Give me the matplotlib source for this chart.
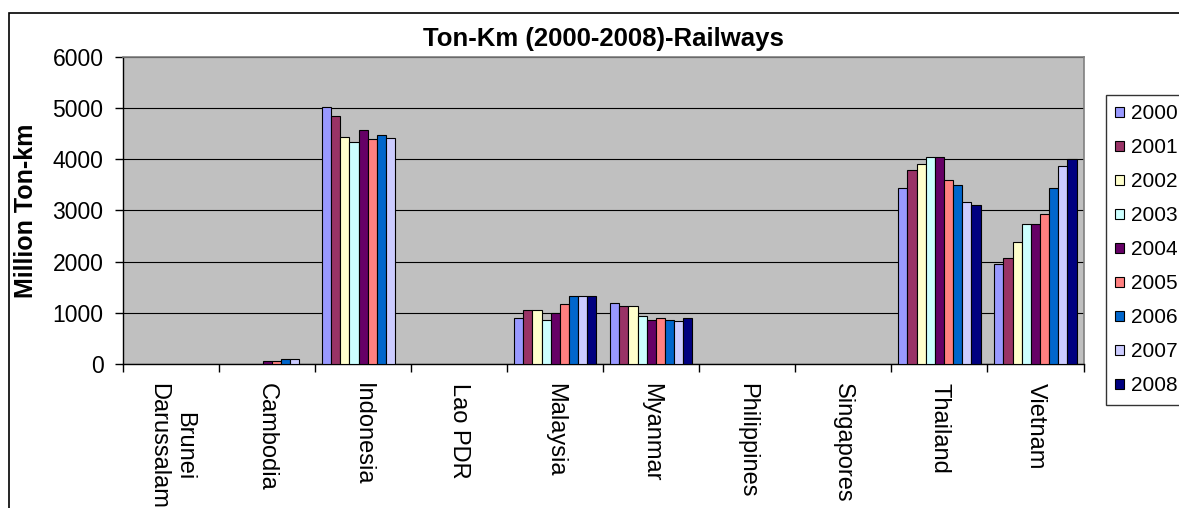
import numpy as np
import matplotlib
matplotlib.use('Agg')
import matplotlib.pyplot as plt
from matplotlib.patches import Rectangle

plt.rcParams['font.family'] = ['Liberation Sans', 'DejaVu Sans']

# 数据 (Million Ton-km), nan = 无数据
countries = ['Brunei\nDarussalam', 'Cambodia', 'Indonesia', 'Lao PDR', 'Malaysia',
             'Myanmar', 'Philippines', 'Singapores', 'Thailand', 'Vietnam']
years = ['2000', '2001', '2002', '2003', '2004', '2005', '2006', '2007', '2008']
nan = np.nan
y2000 = [nan, nan, 5010, nan, 890, 1190, nan, nan, 3440, 1950]
y2001 = [nan, nan, 4840, nan, 1060, 1135, nan, nan, 3780, 2060]
y2002 = [nan, nan, 4440, nan, 1060, 1135, nan, nan, 3910, 2390]
y2003 = [nan, nan, 4340, nan, 860, 930, nan, nan, 4045, 2725]
y2004 = [nan, 65, 4570, nan, 1000, 860, nan, nan, 4045, 2725]
y2005 = [nan, 65, 4400, nan, 1165, 890, nan, nan, 3600, 2930]
y2006 = [nan, 105, 4480, nan, 1335, 860, nan, nan, 3500, 3440]
y2007 = [nan, 105, 4410, nan, 1335, 830, nan, nan, 3170, 3875]
y2008 = [nan, nan, nan, nan, 1335, 900, nan, nan, 3100, 4010]
series = [y2000, y2001, y2002, y2003, y2004, y2005, y2006, y2007, y2008]

# Excel 2003 默认配色
colors = ['#9999FF', '#993366', '#FFFFCC', '#CCFFFF', '#660066',
          '#FF8080', '#0066CC', '#CCCCFF', '#000080']

W, H = 1179, 508
fig = plt.figure(figsize=(W / 100, H / 100), dpi=100)
ax = fig.add_axes([123 / W, 1 - 364 / H, (1083.5 - 123) / W, (364 - 56.7) / H])
ax.set_facecolor('#C0C0C0')

x = np.arange(len(countries))
w = 1 / 10.5
for i, (vals, c) in enumerate(zip(series, colors)):
    ax.bar(x + (i - 4) * w, vals, w, color=c, edgecolor='black', linewidth=0.8,
           label=years[i], zorder=3)

ax.set_xlim(-0.5, len(countries) - 0.5)
ax.set_ylim(0, 6000)
ax.set_yticks(range(0, 6001, 1000))
ax.yaxis.grid(True, color='black', linewidth=0.8, zorder=1)

ax.set_xticks(x)
ax.set_xticklabels(countries, rotation=-90, ha='center', va='top',
                   multialignment='center', fontsize=17)
ax.set_xticks(np.arange(-0.5, len(countries)), minor=True)
ax.tick_params(axis='x', which='major', length=0, pad=14)
ax.tick_params(axis='x', which='minor', length=6, width=1, direction='out')
ax.tick_params(axis='y', length=6, width=1, direction='out', pad=8, labelsize=16.5)

for s in ['top', 'right']:
    ax.spines[s].set_color('#808080')
    ax.spines[s].set_linewidth(1.2)
for s in ['left', 'bottom']:
    ax.spines[s].set_color('black')
    ax.spines[s].set_linewidth(1)

ax.set_title('Ton-Km (2000-2008)-Railways', fontsize=18.5, fontweight='bold', pad=8)
ax.set_ylabel('Million Ton-km', fontsize=18, fontweight='bold')
ax.yaxis.set_label_coords(-0.088, 0.5)

leg = ax.legend(loc='upper left', bbox_to_anchor=(1105.5 / W, 1 - 95 / H),
                bbox_transform=fig.transFigure, fontsize=15, frameon=True,
                fancybox=False, edgecolor='black', handlelength=0.42,
                handleheight=0.42, handletextpad=0.33, labelspacing=0.72,
                borderpad=0.45, borderaxespad=0)
leg.get_frame().set_linewidth(1)

# 外框
fig.patches.append(Rectangle((8.5 / W, -0.2), 1.2, 0.2 + 1 - 12.5 / H,
                             transform=fig.transFigure, fill=False,
                             edgecolor='black', linewidth=1.2))

fig.savefig('out.png', dpi=100)
